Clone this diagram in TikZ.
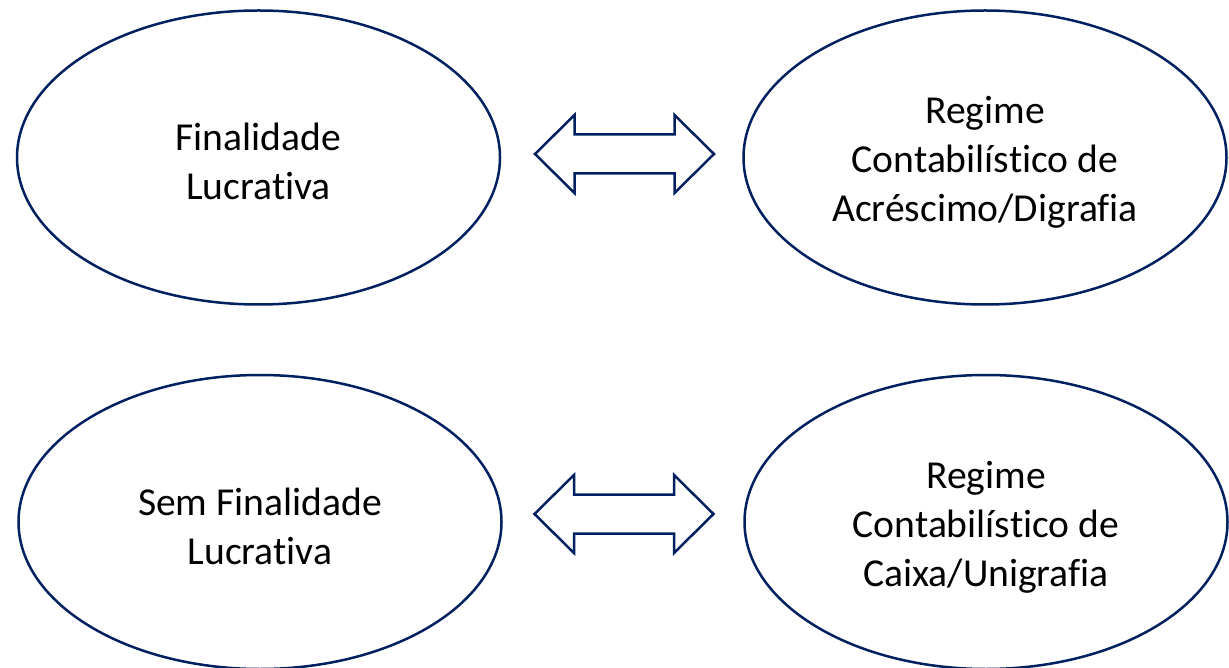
\documentclass[tikz,border=0pt]{standalone}
\usepackage{fontspec}
\setmainfont{Carlito}[Ligatures={NoCommon}]
\usetikzlibrary{shapes.geometric}
\definecolor{navy}{HTML}{002060}
\begin{document}
\begin{tikzpicture}[x=1pt,y=-1pt,
  oval/.style={ellipse, draw=navy, line width=2.5pt, minimum width=483pt, minimum height=294pt, inner sep=0pt},
  txt/.style={align=center, inner sep=0pt, font=\fontsize{39.6}{49}\selectfont},
  barrow/.style={draw=navy, line width=2.5pt, fill=white, line join=miter},
  pics/dblarr/.style={code={
    \draw[barrow] (-89.5,0) -- (-50,-39) -- (-50,-19.5) -- (50,-19.5) -- (50,-39) -- (89.5,0) -- (50,39) -- (50,19.5) -- (-50,19.5) -- (-50,39) -- cycle;}}]
\useasboundingbox (0,0) rectangle (1229,668);
\node[oval] (fl) at (258.5,157.5) {};
\node[oval] (rd) at (985,157.5) {};
\node[oval] (sfl) at (260,522) {};
\node[oval] (rc) at (986,522) {};
\node[txt] (tfl) at ([yshift=-4pt]fl.center) {Finalidade\\Lucrativa};
\node[txt] (trd) at ([yshift=-5pt]rd.center) {Regime\\Contabilístico de\\Acréscimo/Digrafia};
\node[txt] (tsfl) at ([yshift=-4pt]sfl.center) {Sem Finalidade\\Lucrativa};
\node[txt] (trc) at ([yshift=-5pt]rc.center) {Regime\\Contabilístico de\\Caixa/Unigrafia};
\pic (a1) at (624.5,154) {dblarr};
\pic (a2) at (624,514) {dblarr};
\end{tikzpicture}
\end{document}
